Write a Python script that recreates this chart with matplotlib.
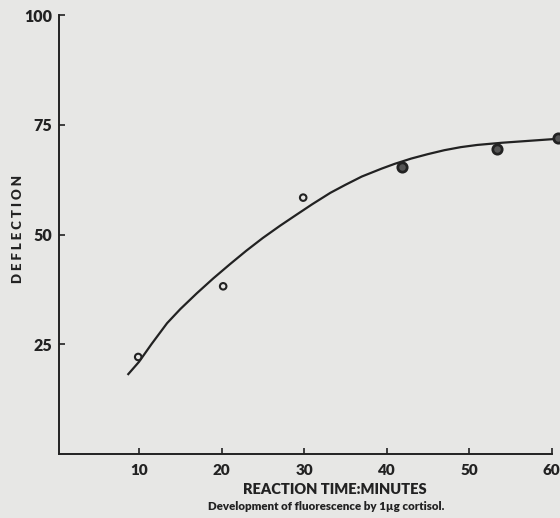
import matplotlib
matplotlib.use("Agg")
import matplotlib.pyplot as plt

# Measured points
time_pts = [9.9, 20.2, 29.9]
defl_pts = [22.1, 38.2, 58.4]
time_pts_filled = [41.9, 53.4, 60.8]
defl_pts_filled = [65.4, 69.5, 72.0]

# Hand-drawn fitted curve
curve_t = [8.7, 10.0, 11.5, 13.4, 15.0, 17.0, 19.0, 21.0, 23.0, 25.0, 27.1, 29.0, 31.0,
           33.2, 35.0, 37.0, 39.4, 41.0, 43.0, 45.0, 47.0, 49.0, 51.0, 54.0, 57.0, 61.5]
curve_d = [18.2, 21.0, 25.0, 29.8, 33.0, 36.6, 40.0, 43.2, 46.3, 49.2, 52.0, 54.4, 56.9,
           59.5, 61.3, 63.2, 65.0, 66.1, 67.3, 68.3, 69.2, 69.9, 70.4, 70.9, 71.3, 71.9]

xticks = [10, 20, 30, 40, 50, 60]
yticks = [25, 50, 75, 100]

bg = "#e7e7e5"
ink = "#222222"
fam = "Lato"

fig = plt.figure(figsize=(5.6, 5.18), dpi=100, facecolor=bg)
W, H = 560, 518
x0, x1 = 59.0, 551.5
y0, y1 = 454.0, 15.0
ax = fig.add_axes([x0 / W, (H - y0) / H, (x1 - x0) / W, (y0 - y1) / H])
ax.set_facecolor(bg)
ax.set_xlim(0.3, 60)
ax.set_ylim(0, 100)

for s in ["top", "right"]:
    ax.spines[s].set_visible(False)
for s in ["left", "bottom"]:
    ax.spines[s].set_color(ink)
    ax.spines[s].set_linewidth(1.4)

ax.plot(curve_t, curve_d, color=ink, lw=1.6, clip_on=False, zorder=3)
ax.scatter(time_pts, defl_pts, s=22, facecolors="none", edgecolors=ink, linewidths=1.5, zorder=4)
ax.scatter(time_pts_filled, defl_pts_filled, s=45, facecolors="#555555", edgecolors=ink,
           linewidths=2.0, zorder=4, clip_on=False)

ax.set_xticks(xticks)
ax.set_xticklabels([str(t) for t in xticks], fontsize=11, fontweight="heavy", color=ink, fontfamily=fam)
ax.set_yticks(yticks)
ax.set_yticklabels([str(t) for t in yticks], fontsize=11.5, fontweight="heavy", color=ink, fontfamily=fam)
ax.tick_params(axis="x", direction="in", length=4, width=1.2, color=ink, pad=7)
ax.tick_params(axis="y", direction="in", length=4, width=1.2, color=ink, pad=5)

fig.text(335 / W, 1 - 490 / H, "REACTION TIME:MINUTES", ha="center", va="center",
         fontsize=10.5, fontweight="heavy", color=ink, fontfamily=fam)
fig.text(326 / W, 1 - 507 / H, "Development of fluorescence by 1µg cortisol.", ha="center", va="center",
         fontsize=8.3, fontweight="heavy", color=ink, fontfamily=fam)
fig.text(18 / W, 1 - 229 / H, "D E F L E C T I O N", ha="center", va="center", rotation=90,
         fontsize=9.5, fontweight="heavy", color=ink, fontfamily=fam)

fig.savefig("out.png", dpi=100, facecolor=bg)
